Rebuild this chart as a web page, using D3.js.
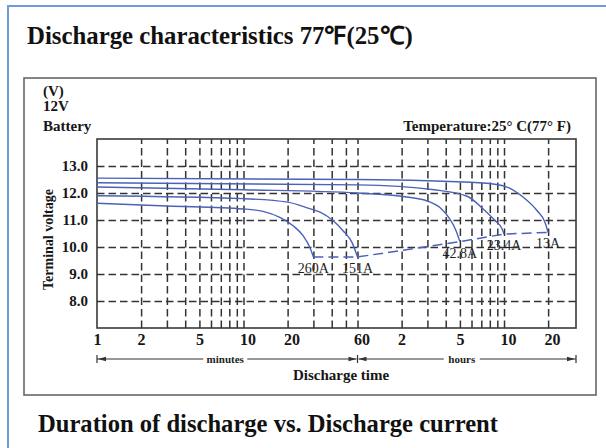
<!DOCTYPE html>
<html><head><meta charset="utf-8">
<script src="https://cdn.jsdelivr.net/npm/d3@7"></script>
<style>
body{margin:0;background:#fff;}
svg{display:block;font-family:"Liberation Serif","Times New Roman",serif;}
</style>
</head><body>
<svg id="c" width="606" height="448"></svg>
<script>
// ---- data (time in minutes, terminal voltage in V) ----
const curveNames = ["260A", "151A", "42.8A", "23.4A", "13A"];
const curve260A = [[1,11.62],[3,11.52],[10,11.41],[13.6,11.32],[17.7,11.10],[21.8,10.79],[25.5,10.42],[28.4,9.98],[30,9.63]];
const curve151A = [[1,11.9],[10,11.79],[20,11.66],[28,11.43],[33.3,11.29],[40.8,10.98],[47.8,10.6],[55,10.17],[60,9.63]];
const curve42A  = [[1,12.22],[10,12.12],[60,12.0],[130,11.85],[180,11.7],[220,11.45],[255,11.05],[280,10.65],[300,10.2]];
const curve23A  = [[1,12.38],[60,12.3],[200,12.12],[336,11.88],[432,11.41],[521,10.98],[582,10.67],[600,10.48]];
const curve13A  = [[1,12.55],[60,12.5],[432,12.37],[629,12.22],[809,11.85],[1007,11.35],[1143,10.91],[1200,10.54]];
const yTicks = [8, 9, 10, 11, 12, 13];
const xGridValues = [2,3,4,5,6,7,8,9,10,20,30,40,50,60,120,180,240,300,360,420,480,540,600,1200];
const xTickValues = [1, 2, 5, 10, 20, 60, 120, 300, 600, 1200];
const xTickLabels = ["1", "2", "5", "10", "20", "60", "2", "5", "10", "20"];
const xDomain = [1, 1860];
const yDomain = [7, 14];

const curves = [curve260A, curve151A, curve42A, curve23A, curve13A];

const svg = d3.select("#c");
const L = 97, R = 576, T = 139, B = 328;
const x = d3.scaleLog().domain(xDomain).range([L, R]);
const y = d3.scaleLinear().domain(yDomain).range([B, T]);
const ink = "#161616";

svg.append("rect").attr("width",606).attr("height",448).attr("fill","#fff");

// outer blue frame
svg.append("path").attr("d","M8,448V6H606").attr("fill","none")
  .attr("stroke","#6f9bd8").attr("stroke-width",2);
// inner box
svg.append("rect").attr("x",24).attr("y",78).attr("width",572).attr("height",317)
  .attr("fill","none").attr("stroke","#666").attr("stroke-width",1.6);

// titles
svg.append("text").attr("x",27).attr("y",44).attr("font-size",24.8).attr("font-weight","bold")
  .attr("fill","#111").text("Discharge characteristics 77℉(25℃)");
svg.append("text").attr("x",38).attr("y",432).attr("font-size",24.6).attr("font-weight","bold")
  .attr("fill","#111").text("Duration of discharge vs. Discharge current");

// y grid + labels
const gy = svg.append("g").attr("transform",`translate(${L},0)`)
  .call(d3.axisLeft(y).tickValues(yTicks).tickSize(-(R-L)).tickPadding(9).tickFormat(d3.format(".1f")));
gy.select(".domain").remove();
gy.selectAll("line").attr("stroke","#333").attr("stroke-width",1.5).attr("stroke-dasharray","7.5,4");
gy.selectAll("text").attr("font-family","Liberation Serif").attr("font-size",15)
  .attr("font-weight","bold").attr("fill",ink);

// x grid
const gx = svg.append("g").attr("transform",`translate(0,${B})`)
  .call(d3.axisBottom(x).tickValues(xGridValues).tickSize(-(B-T)).tickFormat(""));
gx.select(".domain").remove();
gx.selectAll("line").attr("stroke","#333").attr("stroke-width",1.5).attr("stroke-dasharray","7.5,4");

// x labels
const gl = svg.append("g").attr("transform",`translate(0,${B})`)
  .call(d3.axisBottom(x).tickValues(xTickValues).tickSize(0).tickFormat((d,i)=>xTickLabels[i]));
gl.select(".domain").remove();
gl.selectAll("text").attr("font-family","Liberation Serif").attr("font-size",16)
  .attr("font-weight","bold").attr("fill",ink)
  .attr("text-anchor","start").attr("x",-4).attr("y",17).attr("dy",null);

// plot frame
svg.append("rect").attr("x",L).attr("y",T).attr("width",R-L).attr("height",B-T)
  .attr("fill","none").attr("stroke","#3a3a3a").attr("stroke-width",1.6);

// curves
const line = d3.line().x(d=>x(d[0])).y(d=>y(d[1])).curve(d3.curveMonotoneX);
svg.append("g").selectAll("path").data(curves).join("path")
  .attr("d",line).attr("fill","none").attr("stroke","#4a62b8").attr("stroke-width",1.4);

// cut-off dashed line through end points
const ends = curves.map(c=>c[c.length-1]).sort((a,b)=>a[0]-b[0]);
svg.append("path").attr("d",d3.line().x(d=>x(d[0])).y(d=>y(d[1]))(ends))
  .attr("fill","none").attr("stroke","#4a62b8").attr("stroke-width",1.5).attr("stroke-dasharray","10,5");

// curve labels
svg.append("g").selectAll("text").data(curves).join("text")
  .attr("x",c=>x(c[c.length-1][0])).attr("y",c=>y(c[c.length-1][1])+16)
  .attr("text-anchor","middle").attr("font-size",14).attr("fill","#1e1e1e")
  .text((c,i)=>curveNames[i]);

// axis side texts
const side = [["(V)",96],["12V",111],["Battery",131]];
svg.append("g").selectAll("text").data(side).join("text")
  .attr("x",43).attr("y",d=>d[1]).attr("font-size",15).attr("font-weight","bold").attr("fill",ink)
  .text(d=>d[0]);
svg.append("text").attr("transform",`translate(53,${(T+B)/2+6}) rotate(-90)`)
  .attr("text-anchor","middle").attr("font-size",14).attr("font-weight","bold").attr("fill",ink)
  .text("Terminal voltage");
svg.append("text").attr("x",571).attr("y",131).attr("text-anchor","end")
  .attr("font-size",15).attr("font-weight","bold").attr("fill",ink)
  .text("Temperature:25° C(77° F)");
svg.append("text").attr("x",341).attr("y",380).attr("text-anchor","middle")
  .attr("font-size",15).attr("font-weight","bold").attr("fill",ink)
  .text("Discharge time");

// minutes / hours range arrows
const ay = 359;
const g = svg.append("g").attr("stroke","#333").attr("fill","#333");
function seg(x1,x2){ g.append("line").attr("x1",x1).attr("x2",x2).attr("y1",ay).attr("y2",ay).attr("stroke-width",1.2); }
function bar(xx){ g.append("line").attr("x1",xx).attr("x2",xx).attr("y1",ay-4).attr("y2",ay+4).attr("stroke-width",1.2); }
function head(xx,dir){ g.append("path").attr("stroke","none")
  .attr("d",`M${xx},${ay}L${xx+dir*8},${ay-2.2}L${xx+dir*8},${ay+2.2}Z`); }
const x1 = x(1), x60 = x(60), xe = R;
const mMid = (x1+x60)/2 - 2, hMid = (x60+xe)/2 - 5;
seg(x1, mMid-22); seg(mMid+22, x60-1); bar(x1); head(x1+1,1); head(x60-1,-1); bar(x60);
seg(x60+1, hMid-18); seg(hMid+18, xe); head(x60+1,1); head(xe-1,-1); bar(xe);
svg.append("text").attr("x",mMid).attr("y",ay+3.5).attr("text-anchor","middle")
  .attr("font-size",11).attr("font-weight","bold").attr("fill","#222").text("minutes");
svg.append("text").attr("x",hMid).attr("y",ay+3.5).attr("text-anchor","middle")
  .attr("font-size",11).attr("font-weight","bold").attr("fill","#222").text("hours");
</script>
</body></html>
